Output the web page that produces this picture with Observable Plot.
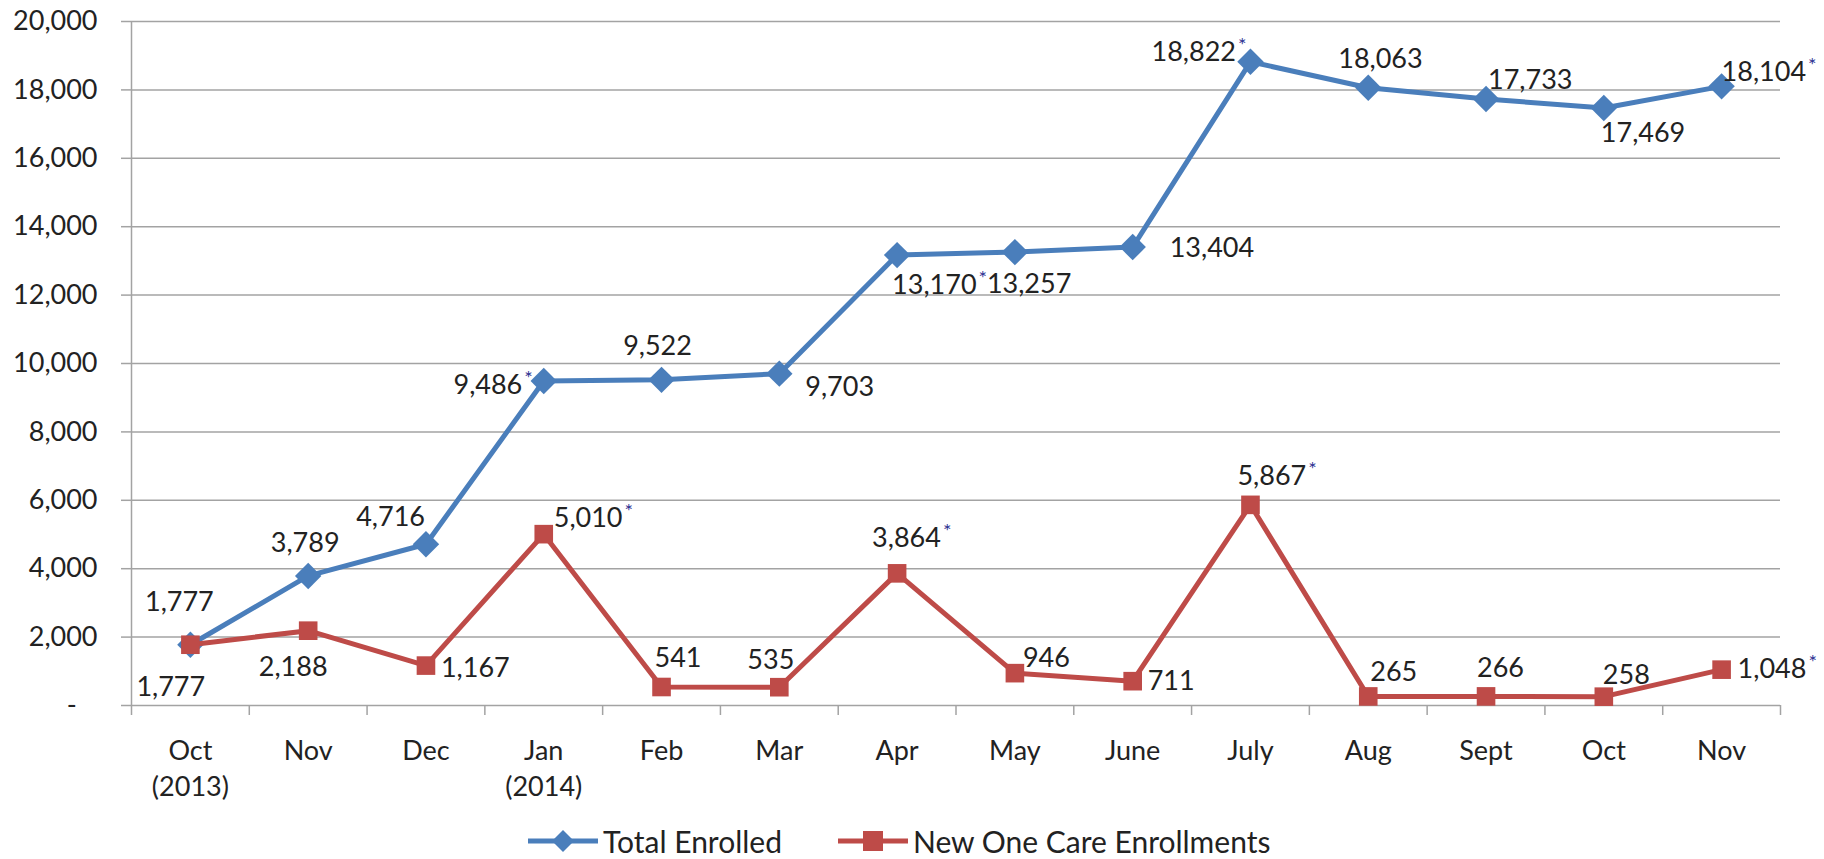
<!DOCTYPE html>
<html>
<head>
<meta charset="utf-8">
<script src="https://cdn.jsdelivr.net/npm/d3@7"></script>
<script src="https://cdn.jsdelivr.net/npm/@observablehq/plot@0.6"></script>
<style>
  html, body { margin: 0; padding: 0; background: #fff; overflow: hidden; }
  #legend { position: relative; width: 1824px; height: 49px; font-family: Lato, sans-serif; font-size: 30px; color: #222; }
  #legend .row { position: absolute; left: 528px; top: 13px; height: 36px; display: flex; align-items: center; white-space: nowrap; }
  #legend span { line-height: 36px; }
</style>
</head>
<body>
<div id="chart"></div>
<div id="legend"><div class="row">
  <svg width="70" height="30"><line x1="0" y1="15" x2="70" y2="15" stroke="#4a7ebb" stroke-width="5"/><path d="M35,4L46,15L35,26L24,15Z" fill="#4a7ebb"/></svg>
  <span style="margin-left:5px">Total Enrolled</span>
  <svg width="70" height="30" style="margin-left:56px"><line x1="0" y1="15" x2="70" y2="15" stroke="#be4b48" stroke-width="5"/><rect x="25" y="5" width="20" height="20" fill="#be4b48"/></svg>
  <span style="margin-left:5px">New One Care Enrollments</span>
</div></div>
<script>
// ---- data ----
const months = ["Oct\n(2013)", "Nov", "Dec", "Jan\n(2014)", "Feb", "Mar", "Apr", "May", "June", "July", "Aug", "Sept", "Oct", "Nov"];
const totalEnrolled = [1777, 3789, 4716, 9486, 9522, 9703, 13170, 13257, 13404, 18822, 18063, 17733, 17469, 18104];
const newEnrollments = [1777, 2188, 1167, 5010, 541, 535, 3864, 946, 711, 5867, 265, 266, 258, 1048];
const totalStarred = [false, false, false, true, false, false, true, false, false, true, false, false, false, true];
const newStarred = [false, false, false, true, false, false, true, false, false, true, false, false, false, true];
const yTicks = [0, 2000, 4000, 6000, 8000, 10000, 12000, 14000, 16000, 18000, 20000];
const seriesNames = ["Total Enrolled", "New One Care Enrollments"];

// ---- label placement (anchor, dx, dy in px relative to point) ----
const totalPlace = [["middle",-11,-42],["middle",-3,-33],["end",-1,-27],["end",-11,4],["middle",-4,-33],["start",26,14],["start",-5,30],["start",-28,32],["start",37,1],["end",-4,-9],["start",-30,-28],["start",2,-19],["start",-3,25],["start",0,-14]];
const newPlace = [["start",-54,43],["middle",-15,37],["start",15,3],["start",10,-16],["start",-7,-29],["start",-32,-27],["start",-25,-35],["start",8,-15],["start",15,0],["start",-13,-28],["start",2,-24],["start",-9,-28],["start",-1,-21],["start",16,0]];

const blue = "#4a7ebb", red = "#be4b48", grid = "#a3a3a3", ink = "#222";
const idx = months.map((_, i) => i);
const fmt = d3.format(",");
const bounds = d3.range(-0.5, months.length, 1);

function labelMarks(values, starred, place) {
  return values.map((v, i) => Plot.text([i], {
    x: d => d, y: () => v,
    text: () => fmt(v) + (starred[i] ? "*" : ""),
    textAnchor: place[i][0], dx: place[i][1], dy: place[i][2],
    lineAnchor: "middle", fontSize: 27, fill: ink
  }));
}

const chart = Plot.plot({
  width: 1824, height: 810,
  marginLeft: 131, marginRight: 44, marginTop: 21, marginBottom: 105,
  style: { fontFamily: "Lato, sans-serif", fontSize: "27px", color: ink, background: "#fff", overflow: "visible" },
  x: { type: "linear", domain: [-0.5, months.length - 0.5] },
  y: { domain: [0, 20000] },
  marks: [
    Plot.gridY(yTicks, { stroke: grid, strokeOpacity: 1, strokeWidth: 1.5 }),
    Plot.ruleX([-0.5], { y1: 0, y2: 20000, stroke: grid, strokeWidth: 1.5 }),
    Plot.axisY(yTicks, { tickSize: 10, tickPadding: 24, stroke: grid, strokeWidth: 1.5, fill: ink, fontSize: 27, label: null,
      tickFormat: d => d === 0 ? "-\u00a0\u00a0\u00a0" : fmt(d) }),
    Plot.axisX(bounds, { tickSize: 10, tickFormat: () => "", stroke: grid, strokeWidth: 1.5, label: null }),
    Plot.axisX(idx, { tickSize: 0, tickPadding: 29, tickFormat: i => months[i], fontSize: 27, fill: ink, lineHeight: 36 / 27, lineAnchor: "top", label: null }),
    Plot.line(idx, { x: i => i, y: i => totalEnrolled[i], stroke: blue, strokeWidth: 5, strokeLinejoin: "round" }),
    Plot.dot(idx, { x: i => i, y: i => totalEnrolled[i], symbol: "diamond2", r: 11.9, fill: blue, stroke: "none" }),
    Plot.line(idx, { x: i => i, y: i => newEnrollments[i], stroke: red, strokeWidth: 5, strokeLinejoin: "round" }),
    Plot.dot(idx, { x: i => i, y: i => newEnrollments[i], symbol: "square", r: 10.5, fill: red, stroke: "none" }),
    ...labelMarks(totalEnrolled, totalStarred, totalPlace),
    ...labelMarks(newEnrollments, newStarred, newPlace)
  ]
});

// turn trailing "*" in data labels into a small navy superscript
d3.select(chart).selectAll('g[aria-label="text"] text').each(function () {
  const t = this.textContent;
  if (t.endsWith("*")) {
    this.textContent = t.slice(0, -1);
    d3.select(this).append("tspan").attr("dx", 2).attr("dy", -9).attr("font-size", 20).attr("fill", "#2e3192").text("*");
  }
});

document.getElementById("chart").append(chart);
</script>
</body>
</html>
